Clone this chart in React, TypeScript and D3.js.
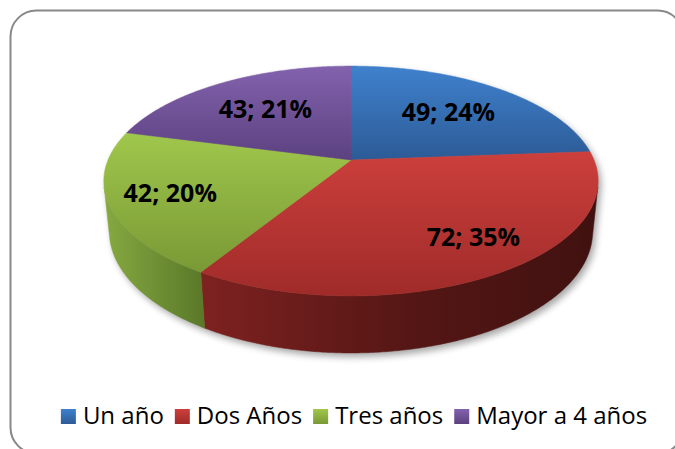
import React, { useEffect, useRef } from "react";
import * as d3 from "d3";

const categories = ["Un año", "Dos Años", "Tres años", "Mayor a 4 años"];
const values = [49, 72, 42, 43];
const topColors = [
  ["#3F81CD", "#2C5B96"],
  ["#CC3F3C", "#9F2B29"],
  ["#A0C74C", "#799935"],
  ["#8262AD", "#5C4180"],
];
const sideColors = [
  ["#2F5E9C", "#1E3E68"],
  ["#7E2221", "#561715", "#401110"],
  ["#86A941", "#5A7829"],
  ["#5E4381", "#3E2B56"],
];
const labelRadius = [0.64, 0.76, 0.76, 0.63];
const labelAngleShift = [0, -0.08, 0, 0];

const W = 675;
const H = 449;

export default function App() {
  const ref = useRef<SVGSVGElement | null>(null);

  useEffect(() => {
    const svg = d3.select(ref.current);
    svg.selectAll("*").remove();

    // projection parameters (perspective 3D pie)
    const cx = 351, cy = 160, F = 243;
    const alpha = (27.2 * Math.PI) / 180;
    const sinA = Math.sin(alpha), cosA = Math.cos(alpha);
    const k = 0.2054, Hr = 0.2355;
    const proj = (u: number, v: number, h: number): [number, number] => {
      const xc = u;
      const yc = h * cosA + v * sinA;
      const zc = 1 + k * (v * cosA - h * sinA);
      return [cx + (F * xc) / zc, cy - (F * yc) / zc];
    };
    const rim = (phi: number, h: number, r = 1) => proj(r * Math.sin(phi), r * Math.cos(phi), h);

    const defs = svg.append("defs");
    topColors.forEach((c, i) => {
      const g = defs.append("linearGradient").attr("id", `top${i}`).attr("x1", 0).attr("y1", 0).attr("x2", 0).attr("y2", 1);
      g.append("stop").attr("offset", 0).attr("stop-color", c[0]);
      g.append("stop").attr("offset", 1).attr("stop-color", c[1]);
    });
    sideColors.forEach((c, i) => {
      const g = defs.append("linearGradient").attr("id", `side${i}`).attr("x1", 0).attr("y1", 0).attr("x2", 1).attr("y2", 0);
      c.forEach((col, j) => g.append("stop").attr("offset", j / (c.length - 1)).attr("stop-color", col));
    });
    const filt = defs.append("filter").attr("id", "shadow").attr("x", "-20%").attr("y", "-20%").attr("width", "140%").attr("height", "140%");
    filt.append("feGaussianBlur").attr("stdDeviation", 3.5);

    // background + border
    svg.append("rect").attr("width", W).attr("height", H).attr("fill", "#fff");
    svg.append("rect")
      .attr("x", 10.5).attr("y", 10.5).attr("width", 673).attr("height", 443).attr("rx", 26)
      .attr("fill", "#fff").attr("stroke", "#888").attr("stroke-width", 2);

    const pie = d3.pie<number>().sort(null).value((d) => d);
    const arcs = pie(values);
    const total = d3.sum(values);
    const line = d3.line();
    const step = Math.PI / 360;
    const sample = (a0: number, a1: number) => {
      const n = Math.max(2, Math.ceil((a1 - a0) / step));
      return d3.range(n + 1).map((j) => a0 + ((a1 - a0) * j) / n);
    };

    // shadow
    const vis = Math.acos(-k / cosA);
    const vis2 = 2 * Math.PI - vis;
    const shadowPts: [number, number][] = [
      ...sample(vis, vis2).map((p) => rim(p, -Hr)),
      ...sample(vis2, vis + 2 * Math.PI).map((p) => rim(p, 0)),
    ];
    svg.append("path")
      .attr("d", line(shadowPts) + "Z")
      .attr("transform", "translate(3,4)")
      .attr("fill", "#000").attr("opacity", 0.35)
      .attr("filter", "url(#shadow)");

    // side walls
    arcs.forEach((a, i) => {
      const s = Math.max(a.startAngle, vis);
      const e = Math.min(a.endAngle, vis2);
      if (e <= s) return;
      const angs = sample(s, e);
      const pts = [...angs.map((p) => rim(p, 0)), ...angs.slice().reverse().map((p) => rim(p, -Hr))];
      svg.append("path").attr("d", line(pts) + "Z").attr("fill", `url(#side${i})`)
        .attr("stroke", `url(#side${i})`).attr("stroke-width", 0.5);
    });

    // top faces
    arcs.forEach((a, i) => {
      const pts = [proj(0, 0, 0), ...sample(a.startAngle, a.endAngle).map((p) => rim(p, 0))];
      svg.append("path").attr("d", line(pts) + "Z").attr("fill", `url(#top${i})`)
        .attr("stroke", `url(#top${i})`).attr("stroke-width", 0.5);
    });

    // labels
    arcs.forEach((a, i) => {
      const mid = (a.startAngle + a.endAngle) / 2 + labelAngleShift[i];
      const [x, y] = rim(mid, 0, labelRadius[i]);
      svg.append("text")
        .attr("x", x).attr("y", y).attr("dy", "0.35em")
        .attr("text-anchor", "middle")
        .attr("font-family", "'Open Sans', sans-serif")
        .attr("font-weight", 700).attr("font-size", 25)
        .attr("fill", "#000")
        .text(`${values[i]}; ${Math.round((values[i] / total) * 100)}%`);
    });

    // legend
    const lg = svg.append("g");
    const sq = 15, gap = 7, sep = 11;
    let x = 0;
    categories.forEach((c, i) => {
      lg.append("rect").attr("x", x).attr("y", 409).attr("width", sq).attr("height", sq).attr("fill", `url(#top${i})`);
      const t = lg.append("text")
        .attr("x", x + sq + gap).attr("y", 424)
        .attr("font-family", "'Open Sans', sans-serif")
        .attr("font-size", 24).attr("fill", "#000")
        .text(c);
      const w = (t.node() as SVGTextElement).getComputedTextLength();
      x += sq + gap + w + sep;
    });
    const totalW = x - sep;
    lg.attr("transform", `translate(${354 - totalW / 2},0)`);
  }, []);

  return (
    <svg
      ref={ref}
      width={W}
      height={H}
      style={{ position: "absolute", left: 0, top: 0, display: "block" }}
    />
  );
}
